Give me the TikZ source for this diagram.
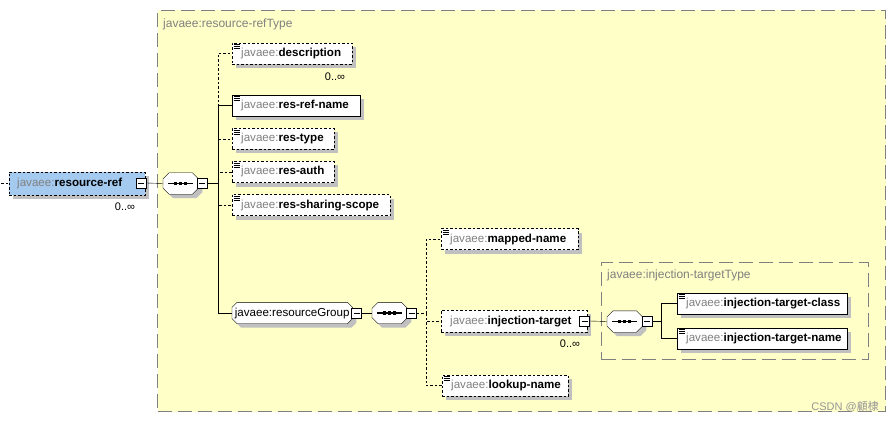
\documentclass[tikz,border=0pt]{standalone}
\usepackage{fontspec}
\setmainfont{Liberation Sans}
\newfontfamily\cjkfont{Noto Sans CJK SC}
\usetikzlibrary{shadows}
\pgfdeclarelayer{back}
\pgfdeclarelayer{mid}
\pgfsetlayers{back,mid,main}
\definecolor{bgyellow}{RGB}{255,255,200}
\definecolor{framegray}{RGB}{128,128,128}
\definecolor{labgray}{RGB}{128,128,128}
\definecolor{shgray}{RGB}{192,192,192}
\definecolor{topblue}{RGB}{164,202,240}
\definecolor{wmgray}{RGB}{150,150,150}
\newcommand\jel[1]{{\color{labgray}javaee:}\textbf{#1}}
% octagon outline round a node: name, chamfer, offset
\newcommand\octpath[3]{([shift={({#2+#3},{#3})}]#1.north west) -- ([shift={({-#2+#3},{#3})}]#1.north east)
  -- ([shift={({#3},{#2+#3})}]#1.north east) -- ([shift={({#3},{-#2+#3})}]#1.south east)
  -- ([shift={({-#2+#3},{#3})}]#1.south east) -- ([shift={({#2+#3},{#3})}]#1.south west)
  -- ([shift={({#3},{-#2+#3})}]#1.south west) -- ([shift={({#3},{#2+#3})}]#1.north west) -- cycle}
\newcommand\octshape[2]{\begin{pgfonlayer}{mid}
  \fill[shgray] \octpath{#1}{#2}{4};
  \draw[fill=white] \octpath{#1}{#2}{0};
  \end{pgfonlayer}}
\newcommand\seqicon[1]{\octshape{#1}{6}
  \draw[line width=1.2pt] ([xshift=5pt]#1.west) -- ([xshift=-5pt]#1.east);
  \foreach \d in {-5,0,5} \fill ([shift={({\d-1.7},-1.7)}]#1.center) rectangle ++(3.4,3.4);}
\begin{document}
\begin{tikzpicture}[x=1pt,y=-1pt,line width=0.8pt,
  font=\fontsize{11.6}{13}\selectfont,
  shd/.style={drop shadow={shadow xshift=4pt,shadow yshift=-4pt,fill=shgray,opacity=1}},
  dsh/.style={dash pattern=on 2.5pt off 2pt},
  frame/.style={draw=framegray,line width=1pt,dash pattern=on 14pt off 6pt,anchor=north west,inner sep=0pt},
  icon/.style={path picture={\foreach \k in {1.5,3.5,5.5}
      \draw[solid,line width=0.6pt] ([shift={(1.5,\k)}]path picture bounding box.north west) -- ++(6,0);}},
  elem/.style={draw,fill=white,shd,anchor=west,minimum height=21pt,inner xsep=0pt,inner ysep=0pt,
      text height=8.5pt,text depth=2.5pt,align=left,text width=#1},
  comp/.style={minimum width=35pt,minimum height=21pt,inner sep=0pt,anchor=west},
  minus/.style={draw,fill=white,minimum size=10pt,inner sep=0pt,
      path picture={\draw[solid] ([xshift=2pt]path picture bounding box.west) -- ([xshift=-2pt]path picture bounding box.east);}},
  mult/.style={font=\fontsize{11}{12}\selectfont,inner sep=0pt},
  tlabel/.style={font=\fontsize{12}{13}\selectfont,text=labgray,anchor=west,inner sep=0pt}
]
\useasboundingbox (0,0) rectangle (893,422);

% frames
\begin{pgfonlayer}{back}
\node[frame,fill=bgyellow,minimum width=728pt,minimum height=401pt] (outer) at (157,10) {};
\node[tlabel] (outerlab) at (163,24) {javaee:resource-refType};
\node[frame,minimum width=267pt,minimum height=97pt] (inner) at (601,262) {};
\node[tlabel] (innerlab) at (607,275) {javaee:injection-targetType};
\end{pgfonlayer}

% root element
\coordinate (lft) at (1,183.5);
\node[elem=136pt,fill=topblue,dsh,minimum height=23pt] (rr) at (9,183.5) {\hspace*{8pt}\jel{resource-ref}};
\node[minus] (rrm) at (141,183) {};
\node[mult] (rrmult) at (125,207) {0..∞};

% first sequence
\node[comp] (c1) at (163,183.5) {};
\seqicon{c1}
\node[minus] (c1m) at (202,183.5) {};
\coordinate (t1) at (218,183.5);

\node[elem=120pt,dsh,icon] (desc) at (232,53.5) {\hspace*{9pt}\jel{description}};
\node[mult] (descmult) at (335,77) {0..∞};
\node[elem=128pt,icon] (rrn) at (232,105.5) {\hspace*{9pt}\jel{res-ref-name}};
\node[elem=102pt,dsh,icon] (rtype) at (232,139) {\hspace*{9pt}\jel{res-type}};
\node[elem=102pt,dsh,icon] (rauth) at (232,172) {\hspace*{9pt}\jel{res-auth}};
\node[elem=158pt,dsh,icon] (rscope) at (232,205) {\hspace*{9pt}\jel{res-sharing-scope}};
\node[minimum width=120pt,minimum height=21pt,inner sep=0pt,anchor=west,
      text height=8.5pt,text depth=2.5pt] (rg) at (232,313) {javaee:resourceGroup};
\octshape{rg}{5}
\node[minus] (rgm) at (356.5,313) {};

% second sequence
\node[comp] (c2) at (372,313) {};
\seqicon{c2}
\node[minus] (c2m) at (411.5,313) {};
\coordinate (t2) at (426,313);

\node[elem=137pt,dsh,icon] (mapped) at (441,239) {\hspace*{9pt}\jel{mapped-name}};
\node[elem=146pt,dsh,minimum height=22pt] (injt) at (441,321) {\hspace*{9pt}\jel{injection-target}};
\node[minus] (injtm) at (584.5,321) {};
\node[mult] (injtmult) at (570,344) {0..∞};
\node[elem=126pt,dsh,icon] (lookup) at (442,385.5) {\hspace*{9pt}\jel{lookup-name}};

% third sequence
\node[comp] (c3) at (607,321.5) {};
\seqicon{c3}
\node[minus] (c3m) at (647,321.5) {};
\coordinate (t3) at (661,321.5);
\node[elem=170pt,icon] (itc) at (677,303.5) {\hspace*{9pt}\jel{injection-target-class}};
\node[elem=170pt,icon] (itn) at (677,338.5) {\hspace*{9pt}\jel{injection-target-name}};

% connectors
\draw[dsh] (lft) -- (rr.west);
\draw (rrm.east) -- (c1.west);
\draw (c1m.east) -- (t1);
\draw (t1) |- (rrn.west);
\draw (t1) |- (rg.west);
\draw[dsh] (t1) |- (desc.west);
\draw[dsh] (t1) |- (rtype.west);
\draw[dsh] (t1) |- (rauth.west);
\draw[dsh] (t1) |- (rscope.west);
\draw (rgm.east) -- (c2.west);
\draw[dsh] (c2m.east) -- (t2);
\draw[dsh] (t2) |- (mapped.west);
\draw[dsh] (t2) |- (injt.west);
\draw[dsh] (t2) |- (lookup.west);
\draw (injtm.east) -- (c3.west);
\draw (c3m.east) -- (t3);
\draw (t3) |- (itc.west);
\draw (t3) |- (itn.west);

% watermark
\node[font=\fontsize{11}{12}\selectfont,text=wmgray,anchor=east,inner sep=0pt] (wm) at (879,407) {CSDN @{\cjkfont 顧棣}};
\end{tikzpicture}
\end{document}
